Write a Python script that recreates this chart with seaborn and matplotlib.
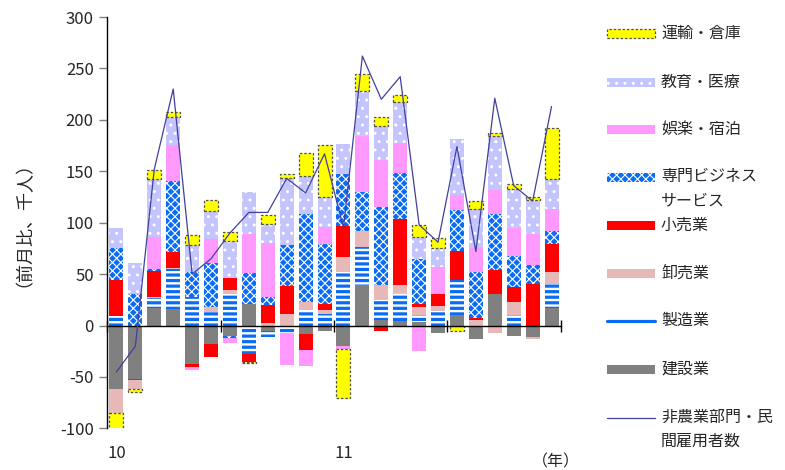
import numpy as np
import pandas as pd
import matplotlib
matplotlib.use("Agg")
import matplotlib.pyplot as plt
import seaborn as sns
from matplotlib.patches import Rectangle
from matplotlib.lines import Line2D

# ---------------- data ----------------
months = pd.date_range("2010-01", periods=24, freq="MS").strftime("%Y-%m").tolist()
year_labels = ["10", "11"]
year_label_months = ["2010-01", "2011-01"]

construction = [-62, -51.5, 17, 16, -37, -18, -10, 20.5, -5.5, 0, -8, -5,
                -19.5, 39, 5.5, 4.7, 3, -7, 10.2, -13.3, 31, -10, -11, 17.5]
manufacturing = [9, -1.5, 9.5, 39, 28, 12.7, 31, -27.5, -5.5, -7, 15.3, 11,
                 52, 37.6, 19.5, 26.8, 7, 14.5, 34, -1.2, 0, 10.2, 0, 23]
wholesale = [-23, -8.5, 1.6, 1.3, 0, 5.6, 3.8, 0, 2, 11.5, 8, 4,
             14.2, 15.7, 14.6, 7.8, 8.5, 4.5, 0, 5, -7, 12.3, -1.6, 11.5]
retail = [35, 0, 25, 15, -3.5, -12.3, 11.2, -8, 17.5, 26.5, -15.3, 6,
          30.8, 0, -5.2, 64, 2.4, 11.5, 28.5, 2.6, 22.7, 15.2, 40, 27.6]
prof_business = [31.5, 31, 1.6, 69.4, 24.3, 42.8, -2, 30.2, 7.8, 40, 84.7, 58,
                 50.3, 37.6, 75.3, 45, 43.5, 0, 39.6, 44.8, 54.5, 30.2, 18.8, 12.3]
leisure = [0, 1, 31.5, 34.4, -3, 23, -5.3, 38.3, 52.5, -31.3, -15.6, 16.8,
           -3, 54.8, 45.7, 29.2, -24.5, 26.8, 14.6, 23.4, 24, 27.3, 30.2, 21]
edu_health = [19, 28.7, 56.5, 27.6, 26.5, 27, 35.8, 40.7, 18.8, 65, 37.5, 29,
              29.2, 43, 33.7, 40, 21.7, 18.2, 54.5, 37.6, 52, 37.6, 33, 29.2]
transport = [-17, -3.2, 9, 5, 9.3, 10.7, 9.4, -1.2, 9, 3.9, 22.4, 50.3,
             -47.5, 17.2, 8.1, 6.5, 12, 9.3, -5.3, 7.8, 3.2, 4.5, 3.2, 49.6]
private_total = [-45, -20, 152, 230, 50, 65, 90, 110, 110, 143, 129, 167,
                 95, 262, 220, 242, 98, 81, 174, 72, 221, 136, 121, 213]

# ---------------- style ----------------
sns.set_theme(style="white")
plt.rcParams["font.family"] = ["Noto Sans CJK JP", "DejaVu Sans"]
plt.rcParams["axes.unicode_minus"] = False

BLUE = "#0a6cf5"
styles = {
    "建設業": dict(facecolor="#808080", edgecolor="#808080", hatch=None, lw=0, hlw=1.0),
    "製造業": dict(facecolor="white", edgecolor=BLUE, hatch="---", lw=0, hlw=2.3),
    "卸売業": dict(facecolor="#e6b9b8", edgecolor="#e6b9b8", hatch=None, lw=0, hlw=1.0),
    "小売業": dict(facecolor="#ff0000", edgecolor="#ff0000", hatch=None, lw=0, hlw=1.0),
    "専門ビジネス\nサービス": dict(facecolor=BLUE, edgecolor="white", hatch="xxxx", lw=0, hlw=0.8),
    "娯楽・宿泊": dict(facecolor="#ff99ff", edgecolor="#ff99ff", hatch=None, lw=0, hlw=1.0),
    "教育・医療": dict(facecolor="#c4c4ff", edgecolor="white", hatch="..", lw=0, hlw=1.0),
    "運輸・倉庫": dict(facecolor="#ffff00", edgecolor="#505050", hatch=None, lw=0.9, hlw=1.0,
                   ls=(0, (2.0, 1.5))),
}
series = [
    ("建設業", construction),
    ("製造業", manufacturing),
    ("卸売業", wholesale),
    ("小売業", retail),
    ("専門ビジネス\nサービス", prof_business),
    ("娯楽・宿泊", leisure),
    ("教育・医療", edu_health),
    ("運輸・倉庫", transport),
]

W, H = 785, 470
fig = plt.figure(figsize=(W / 100, H / 100), dpi=100)
ax_l, ax_r, ax_t, ax_b = 107, 561, 17, 428.4
ax = fig.add_axes([ax_l / W, (H - ax_b) / H, (ax_r - ax_l) / W, (ax_b - ax_t) / H])

x = np.arange(len(months))
pos_bottom = np.zeros(len(months))
neg_bottom = np.zeros(len(months))
for name, vals in series:
    v = np.asarray(vals, dtype=float)
    st = styles[name]
    bottom = np.where(v >= 0, pos_bottom, neg_bottom)
    with plt.rc_context({"hatch.linewidth": st["hlw"]}):
        bars = ax.bar(x, v, width=0.74, bottom=bottom, facecolor=st["facecolor"],
                      edgecolor=st["edgecolor"], hatch=st["hatch"], linewidth=st["lw"],
                      linestyle=st.get("ls", "-"), zorder=2)
        for b in bars:
            if hasattr(b, "set_hatch_linewidth"):
                b.set_hatch_linewidth(st["hlw"])
    pos_bottom = pos_bottom + np.where(v > 0, v, 0)
    neg_bottom = neg_bottom + np.where(v < 0, v, 0)

line_df = pd.DataFrame({"x": x, "total": private_total})
sns.lineplot(data=line_df, x="x", y="total", color="#40409c", linewidth=0.9, ax=ax, zorder=3)

ax.set_xlim(-0.5, len(months) - 0.5)
ax.set_ylim(-100, 300)
ax.set_yticks(np.arange(-100, 301, 50))
ax.tick_params(axis="y", direction="out", length=5.5, width=1, color="#808080",
               labelsize=12, pad=4, left=True)
ax.set_xlabel("")
ax.set_ylabel("")
for s in ["top", "right"]:
    ax.spines[s].set_visible(False)
ax.spines["left"].set_color("black")
ax.spines["left"].set_linewidth(1)
ax.spines["bottom"].set_position(("data", 0))
ax.spines["bottom"].set_color("black")
ax.spines["bottom"].set_linewidth(1)
ax.set_xticks([-0.5, 5.5, 11.5, 17.5, 23.5])
ax.set_xticklabels([])
ax.tick_params(axis="x", direction="inout", length=8, width=1, color="black", bottom=True)

xt = ax.get_xaxis_transform()
for lab, m in zip(year_labels, year_label_months):
    ax.text(months.index(m), -0.06, lab, transform=xt, ha="center", va="center", fontsize=12)

fig.text(556 / W, 1 - 462 / H, "（年）", ha="center", va="center", fontsize=11.5)
fig.text(15 / W, 1 - 215 / H, "（前月比、千人）", rotation=90, ha="center", va="center",
         fontsize=13)

# ---------------- legend (drawn manually on the right) ----------------
legend_rows = [
    ("運輸・倉庫", 33.5),
    ("教育・医療", 82),
    ("娯楽・宿泊", 129.5),
    ("専門ビジネス\nサービス", 177),
    ("小売業", 225.5),
    ("卸売業", 273.5),
    ("製造業", 320.7),
    ("建設業", 369.5),
]
hx0, hw, hh = 607, 48, 9
for name, yc in legend_rows:
    st = styles[name]
    if name == "製造業":
        fig.add_artist(Line2D([hx0 / W, (hx0 + hw) / W], [1 - yc / H, 1 - yc / H],
                              color=BLUE, linewidth=2.3, transform=fig.transFigure))
    else:
        with plt.rc_context({"hatch.linewidth": st["hlw"]}):
            r = Rectangle((hx0 / W, 1 - (yc + hh / 2) / H), hw / W, hh / H,
                          facecolor=st["facecolor"], edgecolor=st["edgecolor"], hatch=st["hatch"],
                          linewidth=st["lw"], linestyle=st.get("ls", "-"),
                          transform=fig.transFigure)
            if hasattr(r, "set_hatch_linewidth"):
                r.set_hatch_linewidth(st["hlw"])
            fig.add_artist(r)
    if "\n" in name:
        fig.text(661 / W, 1 - (yc - 9) / H, name, ha="left", va="top", fontsize=11.5,
                 linespacing=1.55)
    else:
        fig.text(661 / W, 1 - yc / H, name, ha="left", va="center", fontsize=11.5)

yc = 417.7
fig.add_artist(Line2D([hx0 / W, (hx0 + hw) / W], [1 - yc / H, 1 - yc / H],
                      color="#40409c", linewidth=0.9, transform=fig.transFigure))
fig.text(661 / W, 1 - (yc - 9) / H, "非農業部門・民\n間雇用者数", ha="left", va="top",
         fontsize=11.5, linespacing=1.55)

fig.savefig("out.png", dpi=100)
